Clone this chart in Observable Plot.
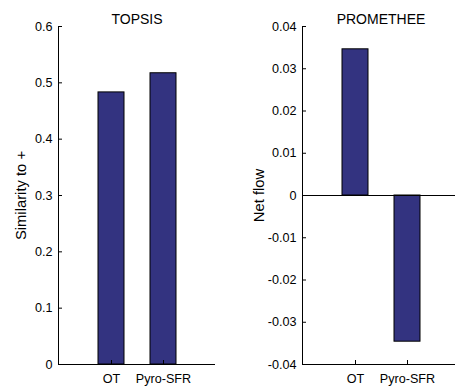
<!DOCTYPE html>
<html>
<head>
<meta charset="utf-8">
<script src="https://cdn.jsdelivr.net/npm/d3@7"></script>
<script src="https://cdn.jsdelivr.net/npm/@observablehq/plot@0.6"></script>
<style>
  html, body { margin: 0; padding: 0; background: #fff; }
  #wrap { position: relative; width: 455px; height: 392px; overflow: hidden; font-family: "Liberation Sans", Arial, sans-serif; }
  #wrap > div { position: absolute; top: 0; }
  #left { left: 0px; width: 230px; }
  #right { left: 230px; width: 240px; }
  #wrap svg { overflow: visible; max-width: none !important; }
</style>
</head>
<body>
<div id="wrap"><div id="left"></div><div id="right"></div></div>
<script>
const categories = ["OT", "Pyro-SFR"];
const topsisValues = [0.483, 0.517];
const prometheeValues = [0.0346, -0.0346];
const topsisTicks = [0, 0.1, 0.2, 0.3, 0.4, 0.5, 0.6];
const prometheeTicks = [-0.04, -0.03, -0.02, -0.01, 0, 0.01, 0.02, 0.03, 0.04];

const barColor = "#333380";
const fmt = (digits) => (d) => (Math.abs(d) < 1e-12 ? "0" : d.toFixed(digits));

function panel({title, values, yDomain, yTicks, digits, yLabel, width, marginLeft, marginRight, labelOffset, extra}) {
  const data = categories.map((c, i) => ({c, v: values[i]}));
  return Plot.plot({
    width, height: 392,
    marginTop: 26, marginBottom: 28, marginLeft, marginRight,
    style: {fontFamily: "Liberation Sans, Arial, sans-serif", fontSize: "12.6px", color: "#000", background: "transparent", maxWidth: "none"},
    x: {type: "band", domain: categories, paddingInner: 0.5, paddingOuter: 0.75, align: 0.5},
    y: {domain: yDomain},
    marks: [
      Plot.barY(data, {x: "c", y: "v", fill: barColor, stroke: "#000", strokeWidth: 1}),
      ...extra,
      Plot.frame({anchor: "left", stroke: "#000"}),
      Plot.axisY({ticks: yTicks, tickFormat: fmt(digits), tickSize: -4, tickPadding: 10, fontSize: 12.6,
        label: yLabel, labelAnchor: "center", labelArrow: "none", labelOffset}),
      Plot.axisX({tickSize: -4, tickPadding: 14, fontSize: 12.6, label: null}),
      Plot.text([title], {frameAnchor: "top", dy: -12, fontSize: 14, fill: "#000"})
    ]
  });
}

const left = panel({
  title: "TOPSIS", values: topsisValues, yDomain: [0, 0.6], yTicks: topsisTicks, digits: 1,
  yLabel: "Similarity to +", width: 230, marginLeft: 58, marginRight: 15, labelOffset: 43,
  extra: [Plot.ruleY([0], {stroke: "#000"})]
});
const right = panel({
  title: "PROMETHEE", values: prometheeValues, yDomain: [-0.04, 0.04], yTicks: prometheeTicks, digits: 2,
  yLabel: "Net flow", width: 240, marginLeft: 72, marginRight: 11, labelOffset: 49,
  extra: [Plot.ruleY([0], {stroke: "#000"}), Plot.ruleY([-0.04], {stroke: "#000"})]
});
document.getElementById("left").appendChild(left);
document.getElementById("right").appendChild(right);
for (const svg of [left, right]) {
  svg.querySelectorAll("g[aria-label='y-axis label'] text").forEach(t => t.setAttribute("font-size", "14.8"));
}
</script>
</body>
</html>
